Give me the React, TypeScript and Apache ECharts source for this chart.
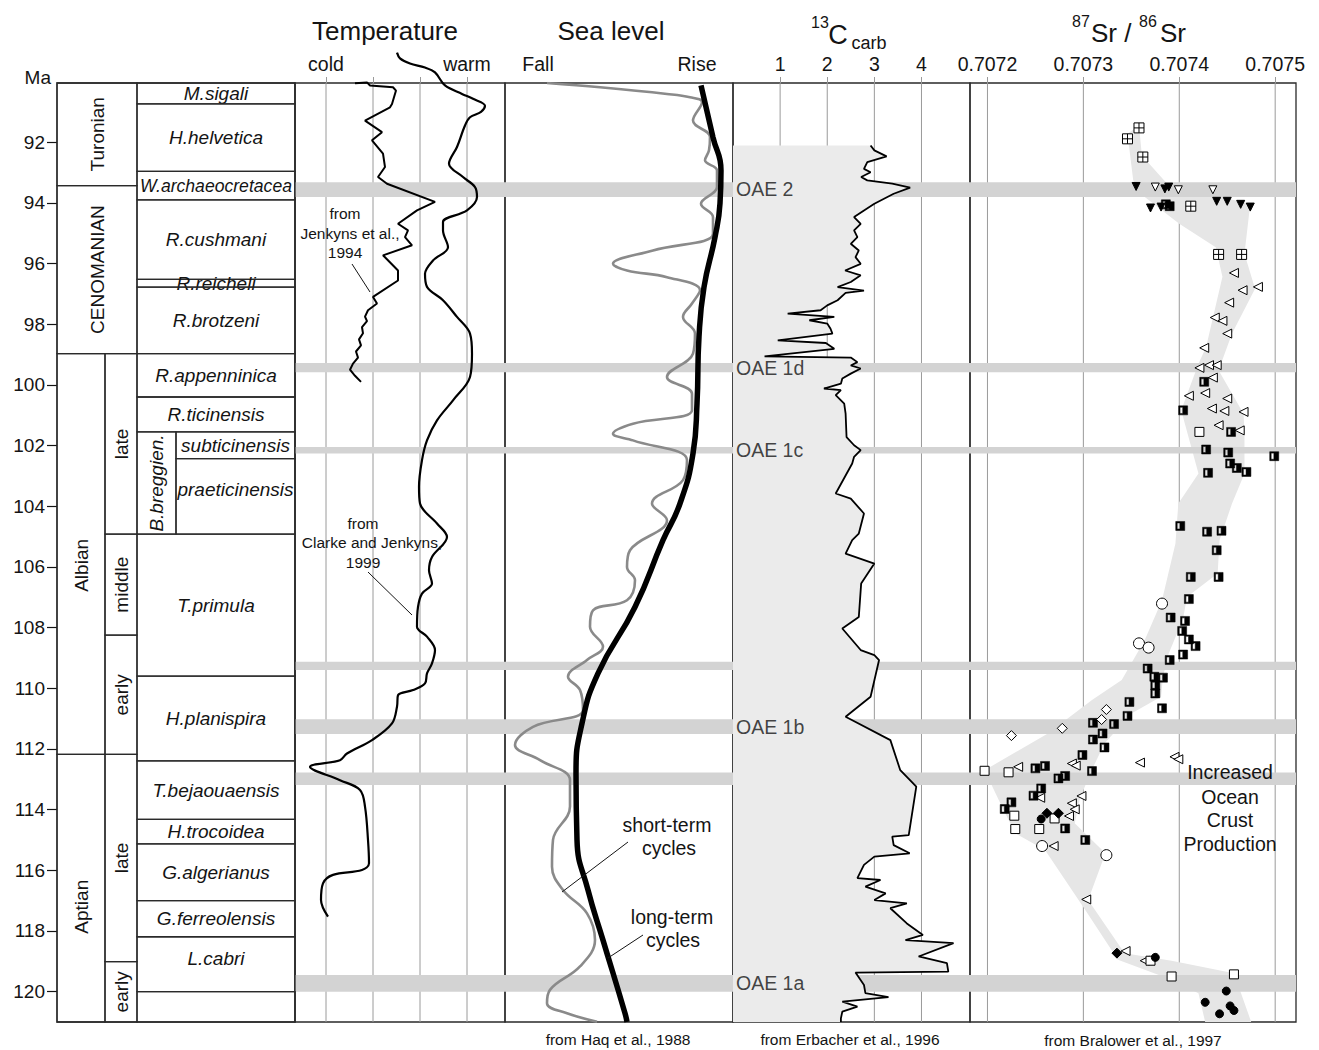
import React, { useEffect, useRef } from "react";
import * as echarts from "echarts";

const FONT = '"Liberation Sans", Arial, Helvetica, sans-serif';

// ---------- Age axis ----------
const MA_MIN = 90.05;
const MA_MAX = 121;
const MA_TICKS = [92, 94, 96, 98, 100, 102, 104, 106, 108, 110, 112, 114, 116, 118, 120];

// ---------- Stratigraphy (Ma boundaries) ----------
const STRAT_COLUMNS: Record<string, [number, number]> = {
  stage: [0, 80],
  stageNarrow: [0, 48],
  substage: [48, 80],
  zone: [80, 238],
  zoneGroup: [80, 119],
  subzone: [119, 238],
};
const STAGES: [string, number, number, string][] = [
  ["Turonian", 90.05, 93.43, "stage"],
  ["CENOMANIAN", 93.43, 98.97, "stage"],
  ["Albian", 98.97, 112.18, "stageNarrow"],
  ["Aptian", 112.18, 121, "stageNarrow"],
];
const SUBSTAGES: [string, number, number][] = [
  ["late", 98.97, 104.92],
  ["middle", 104.92, 108.25],
  ["early", 108.25, 112.18],
  ["late", 112.18, 119.01],
  ["early", 119.01, 121],
];
const ZONES: [string, number, number, string][] = [
  ["M.sigali", 90.05, 90.74, "zone"],
  ["H.helvetica", 90.74, 92.96, "zone"],
  ["W.archaeocretacea", 92.96, 93.9, "zone"],
  ["R.cushmani", 93.9, 96.52, "zone"],
  ["R.reicheli", 96.52, 96.78, "zone"],
  ["R.brotzeni", 96.78, 98.97, "zone"],
  ["R.appenninica", 98.97, 100.4, "zone"],
  ["R.ticinensis", 100.4, 101.55, "zone"],
  ["B.breggien.", 101.55, 104.92, "zoneGroup"],
  ["subticinensis", 101.55, 102.43, "subzone"],
  ["praeticinensis", 102.43, 104.92, "subzone"],
  ["T.primula", 104.92, 109.6, "zone"],
  ["H.planispira", 109.6, 112.39, "zone"],
  ["T.bejaouaensis", 112.39, 114.32, "zone"],
  ["H.trocoidea", 114.32, 115.13, "zone"],
  ["G.algerianus", 115.13, 117.0, "zone"],
  ["G.ferreolensis", 117.0, 118.19, "zone"],
  ["L.cabri", 118.19, 120.0, "zone"],
  ["", 120.0, 121, "zone"],
];
// label placement overrides (label@top)
const LABEL_MA: Record<string, number> = {
  "Albian@98.97": 105.95,
  "Aptian@112.18": 117.2,
  "praeticinensis@102.43": 103.45,
  "L.cabri@118.19": 118.9,
};
const LABEL_SIZE: Record<string, number> = { "W.archaeocretacea": 17.6 };

// ---------- Event bands (OAE etc.) ----------
const BANDS: [number, number][] = [
  [93.32, 93.81], [99.28, 99.58], [102.05, 102.26], [109.13, 109.4],
  [111.02, 111.51], [112.78, 113.19], [119.45, 120.0],
];
const OAE_LABELS: [string, number][] = [
  ["OAE 2", 93.56], ["OAE 1d", 99.43], ["OAE 1c", 102.15], ["OAE 1b", 111.27], ["OAE 1a", 119.72],
];

// ---------- Temperature (relative index, [temp, Ma]) ----------
const TEMP_GRIDLINES = [31, 78, 125, 172];
const TEMP_AXIS_LABELS: [number, string][] = [[31, "cold"], [172, "warm"]];
const TEMP_JENKYNS: [number, number][] = [
  [60, 90.06], [72, 90.03], [75, 90.13], [98, 90.19], [101, 90.3], [97, 90.74], [95, 90.85],
  [70, 91.29], [87, 91.67], [77, 91.94], [88, 92.38], [90, 92.82], [83, 93.15], [92, 93.37],
  [140, 93.97], [122, 94.25], [103, 94.69], [113, 94.91], [110, 95.13], [117, 95.4], [88, 95.73],
  [103, 96.23], [103, 96.56], [78, 97.1], [82, 97.32], [73, 97.54], [70, 97.75], [72, 97.9],
  [67, 98.1], [68, 98.3], [64, 98.5], [66, 98.7], [61, 98.9], [63, 99.1], [58, 99.3], [55, 99.5],
  [60, 99.7], [66, 99.9],
];
const TEMP_CLARKE: [number, number][] = [
  [102, 89.05], [105, 89.24], [115, 89.41], [130, 89.54], [140, 89.7], [150, 90.13], [167, 90.41],
  [178, 90.57], [190, 90.8], [186, 91.0], [175, 91.18], [170, 91.45], [162, 92.16], [154, 92.71],
  [168, 93.15], [180, 93.48], [182, 93.81], [172, 94.25], [148, 94.63], [148, 94.91], [153, 95.46],
  [138, 95.9], [130, 96.34], [132, 96.77], [148, 97.21], [162, 97.76], [175, 98.31], [177, 98.97],
  [175, 99.74], [158, 100.51], [142, 101.17], [132, 101.83], [127, 102.48], [124, 103.36],
  [125, 103.91], [142, 104.57], [152, 105.01], [137, 105.67], [134, 106.11], [137, 106.55],
  [127, 106.88], [123, 107.32], [122, 107.97], [132, 108.3], [140, 108.74], [137, 109.18],
  [132, 109.51], [130, 109.84], [118, 110.06], [103, 110.23], [102, 110.61], [97, 111.16],
  [77, 111.71], [52, 112.15], [45, 112.37], [15, 112.59], [45, 113.03], [65, 113.35], [70, 113.9],
  [73, 115.0], [74, 115.77], [67, 115.99], [38, 116.15], [28, 116.43], [26, 116.98], [33, 117.53],
];

// ---------- Sea level (relative, fall -> rise, [level, Ma]) ----------
const SEA_AXIS_LABELS: [number, string][] = [[33, "Fall"], [192, "Rise"]];
const SEA_SHORT: [number, number][] = [
  [42, 90.05], [95, 90.19], [162, 90.41], [185, 90.52], [197, 90.68], [188, 91.29], [205, 91.83],
  [204, 92.27], [200, 92.6], [212, 92.93], [212, 93.48], [196, 94.03], [208, 94.47], [208, 95.02],
  [148, 95.57], [108, 96.01], [122, 96.23], [162, 96.45], [195, 96.88], [187, 97.32], [178, 97.76],
  [190, 98.31], [188, 98.97], [162, 99.74], [187, 100.29], [187, 100.84], [128, 101.28],
  [108, 101.61], [128, 101.83], [182, 102.48], [178, 103.14], [147, 103.91], [162, 104.46],
  [125, 105.45], [122, 106.0], [130, 106.44], [122, 107.1], [88, 107.43], [85, 107.97],
  [98, 108.63], [82, 109.07], [63, 109.62], [75, 110.06], [78, 110.72], [28, 111.27], [10, 111.87],
  [35, 112.37], [65, 113.03], [65, 113.9], [48, 115.0], [47, 115.88], [58, 116.65], [82, 117.42],
  [90, 118.3], [75, 119.17], [45, 119.94], [42, 120.38], [62, 120.71], [92, 120.99],
];
const SEA_LONG: [number, number][] = [
  [196, 90.13], [208, 91.84], [216, 92.93], [215, 94.02], [210, 95.13], [199, 96.78], [194, 98.42],
  [192, 100.62], [188, 102.26], [175, 103.91], [158, 105.12], [130, 107.32], [93, 109.51],
  [77, 111.16], [71, 112.81], [72, 115.0], [83, 116.65], [98, 118.3], [120, 120.71], [122, 121.0],
];

// ---------- d13C carb ([permil, Ma]) ----------
const C13_TICKS = [1, 2, 3, 4];
const C13: [number, number][] = [
  [2.92, 92.11], [3.0, 92.27], [3.26, 92.47], [2.85, 92.66], [2.78, 92.88], [2.92, 92.99],
  [2.72, 93.15], [2.85, 93.26], [3.38, 93.37], [3.76, 93.5], [3.41, 93.7], [3.0, 94.03],
  [2.78, 94.25], [2.57, 94.47], [2.71, 94.69], [2.57, 94.91], [2.64, 95.13], [2.5, 95.35],
  [2.67, 95.57], [2.6, 95.79], [2.71, 96.01], [2.38, 96.23], [2.71, 96.39], [2.5, 96.61],
  [2.22, 96.78], [2.78, 96.89], [2.39, 96.97], [2.22, 97.21], [2.0, 97.38], [1.86, 97.54],
  [1.16, 97.65], [2.15, 97.76], [1.62, 97.87], [2.0, 97.98], [2.07, 98.15], [2.11, 98.31],
  [0.95, 98.53], [1.97, 98.62], [2.15, 98.81], [0.67, 99.06], [2.5, 99.1], [2.64, 99.25],
  [2.5, 99.36], [2.71, 99.46], [2.5, 99.63], [2.32, 99.79], [2.29, 99.96], [1.93, 100.12],
  [2.29, 100.17], [2.18, 100.34], [2.36, 100.62], [2.39, 100.95], [2.41, 101.72], [2.57, 101.99],
  [2.71, 102.15], [2.57, 102.37], [2.53, 102.59], [2.18, 103.58], [2.5, 103.75], [2.78, 104.24],
  [2.67, 104.9], [2.53, 105.12], [2.39, 105.56], [3.0, 105.89], [2.72, 106.55], [2.67, 107.65],
  [2.32, 108.03], [2.71, 108.74], [3.0, 108.91], [3.1, 109.07], [2.92, 110.28], [2.39, 110.94],
  [3.34, 111.71], [3.55, 112.7], [3.89, 113.24], [3.73, 114.84], [3.38, 114.89], [3.41, 115.17],
  [3.75, 115.44], [3.0, 115.55], [2.78, 115.82], [2.64, 116.26], [3.13, 116.32], [2.81, 116.54],
  [3.24, 116.76], [3.0, 116.98], [3.69, 117.09], [3.34, 117.25], [3.69, 117.75], [4.03, 118.13],
  [3.66, 118.3], [4.68, 118.4], [3.94, 118.84], [4.54, 119.06], [4.57, 119.34], [2.6, 119.37],
  [2.78, 119.78], [2.81, 120.05], [3.3, 120.18], [2.32, 120.33], [2.64, 120.49], [2.32, 120.66],
  [2.29, 120.88], [2.29, 121.0],
];

// ---------- 87Sr/86Sr ([ratio, Ma]) ----------
const SR_TICKS = [0.7072, 0.7073, 0.7074, 0.7075];
const SR_ENVELOPE: [number, number][] = [
  [0.707358, 91.45], [0.707361, 92.44], [0.707389, 93.43], [0.707474, 94.03], [0.707468, 95.68],
  [0.707479, 96.83], [0.707455, 98.31], [0.707441, 99.52], [0.707467, 100.95], [0.707468, 101.55],
  [0.707468, 102.92], [0.707455, 103.91], [0.707442, 105.12], [0.70744, 106.22], [0.707408, 106.99],
  [0.707404, 107.7], [0.707389, 108.85], [0.707383, 109.62], [0.707381, 110.28], [0.70735, 110.83],
  [0.707322, 111.82], [0.707307, 112.81], [0.707296, 113.68], [0.707291, 114.45], [0.707323, 115.44],
  [0.707305, 116.98], [0.707343, 118.73], [0.707392, 118.98], [0.707457, 119.39], [0.707475, 121.0],
  [0.707427, 121.0], [0.70742, 120.05], [0.707392, 119.61], [0.707336, 118.95], [0.707302, 117.31],
  [0.70726, 115.33], [0.707229, 114.78], [0.707215, 113.9], [0.707197, 112.7], [0.707263, 111.49],
  [0.707309, 110.39], [0.70734, 109.73], [0.707364, 108.41], [0.707382, 107.1], [0.707396, 105.23],
  [0.707399, 103.91], [0.70742, 102.92], [0.707402, 100.84], [0.70742, 99.3], [0.707428, 98.75],
  [0.707445, 96.44], [0.707438, 95.46], [0.7074, 94.69], [0.707364, 93.81], [0.707352, 93.26],
  [0.707346, 91.72],
];
const SR_SQ_CROSS: [number, number][] = [
  [0.707358, 91.53], [0.707346, 91.89], [0.707362, 92.49], [0.707412, 94.11], [0.707441, 95.7], [0.707465, 95.7],
];
const SR_TRI_DOWN_FILLED: [number, number][] = [
  [0.707355, 93.46], [0.707385, 93.54], [0.707389, 93.48], [0.70737, 94.17], [0.707381, 94.14],
  [0.707439, 93.95], [0.70745, 93.95], [0.707464, 94.05], [0.707474, 94.14],
];
const SR_TRI_DOWN_OPEN: [number, number][] = [[0.707375, 93.48], [0.707399, 93.57], [0.707435, 93.57]];
const SR_TRI_LEFT_OPEN: [number, number][] = [
  [0.707457, 96.31], [0.707482, 96.77], [0.707466, 96.88], [0.707452, 97.29], [0.707437, 97.78],
  [0.707445, 97.89], [0.70745, 98.31], [0.707426, 98.78], [0.707421, 99.44], [0.707431, 99.35],
  [0.707439, 99.35], [0.707435, 99.76], [0.70741, 100.36], [0.707427, 100.27], [0.70745, 100.45],
  [0.707434, 100.78], [0.707447, 100.86], [0.707467, 100.89], [0.707441, 101.33], [0.707463, 101.5],
  [0.707232, 112.59], [0.707288, 112.48], [0.707292, 112.55], [0.707359, 112.45], [0.707395, 112.26],
  [0.707399, 112.34], [0.707255, 113.61], [0.707298, 113.55], [0.707288, 113.79], [0.707291, 113.99],
  [0.707285, 114.21], [0.707269, 115.2], [0.707303, 116.96], [0.707344, 118.66], [0.707364, 118.98],
];
const SR_HALF_SQ: [number, number][] = [
  [0.707386, 94.05], [0.70739, 94.11], [0.707426, 99.9], [0.707404, 100.84], [0.707454, 101.55],
  [0.707428, 102.13], [0.707451, 102.23], [0.707499, 102.35], [0.707453, 102.59], [0.70746, 102.74],
  [0.70747, 102.87], [0.70743, 102.9], [0.707401, 104.65], [0.707429, 104.84], [0.707444, 104.81],
  [0.707439, 105.45], [0.707412, 106.33], [0.707441, 106.33], [0.70741, 107.06], [0.707391, 107.67],
  [0.707406, 107.78], [0.707403, 108.11], [0.70741, 108.39], [0.707417, 108.61], [0.707404, 108.89],
  [0.70739, 109.07], [0.707367, 109.35], [0.707374, 109.62], [0.707383, 109.65], [0.707375, 109.9],
  [0.707375, 110.17], [0.707348, 110.45], [0.707382, 110.66], [0.707346, 110.91], [0.70731, 111.14],
  [0.707332, 111.18], [0.70732, 111.49], [0.70731, 111.69], [0.707322, 111.95], [0.707299, 112.2],
  [0.70726, 112.56], [0.70725, 112.64], [0.707309, 112.73], [0.707281, 112.89], [0.707274, 112.97],
  [0.707256, 113.3], [0.707248, 113.54], [0.707225, 113.76], [0.707218, 113.98], [0.707281, 114.62],
  [0.707302, 115.0],
];
const SR_OPEN_SQ: [number, number][] = [
  [0.707421, 101.55], [0.707197, 112.72], [0.707222, 112.77], [0.707228, 114.2], [0.70727, 114.29],
  [0.707229, 114.64], [0.707254, 114.64], [0.70737, 118.98], [0.707392, 119.5], [0.707457, 119.43],
];
const SR_OPEN_CIRCLE: [number, number][] = [
  [0.707382, 107.21], [0.707358, 108.52], [0.707368, 108.66], [0.707257, 115.2], [0.707324, 115.5],
];
const SR_OPEN_DIAMOND: [number, number][] = [
  [0.707324, 110.7], [0.707319, 111.03], [0.707278, 111.32], [0.707225, 111.56],
];
const SR_FILLED_DIAMOND: [number, number][] = [[0.707262, 114.12], [0.707274, 114.12], [0.707335, 118.73]];
const SR_FILLED_CIRCLE: [number, number][] = [
  [0.707256, 114.31], [0.707375, 118.87], [0.707449, 119.98], [0.707427, 120.35], [0.707453, 120.47],
  [0.707457, 120.62], [0.707442, 120.73],
];

// ---------- layout ----------
const GRID_TOP = 83;
const GRID_HEIGHT = 939;
const GRIDS = [
  { left: 57, width: 238 },
  { left: 295, width: 210 },
  { left: 505, width: 228 },
  { left: 733, width: 237 },
  { left: 970, width: 326 },
];
const X_RANGES: [number, number][] = [
  [0, 238],
  [0, 210],
  [0, 228],
  [0, 5.03],
  [0.7071818, 0.7075217],
];
const BAND_COLOR = "#d3d3d3";
const GRIDLINE_COLOR = "#9a9a9a";
const FILL_COLOR = "#ebebeb";
const ENVELOPE_COLOR = "#e6e6e6";
const INK = "#141414";

function txt(text: string, x: number, y: number, size: number, opts: any = {}) {
  const align = opts.align || "center";
  const va = opts.va || "middle";
  return {
    type: "text",
    x,
    y,
    z: 20,
    silent: true,
    style: {
      text,
      font: `${opts.italic ? "italic " : ""}${size}px ${FONT}`,
      fill: INK,
      align,
      verticalAlign: va,
      textAlign: align,
      textVerticalAlign: va,
    },
  };
}
function seg(x1: number, y1: number, x2: number, y2: number) {
  return { type: "line", z: 20, silent: true, shape: { x1, y1, x2, y2 }, style: { stroke: INK, lineWidth: 1 } };
}

// value of the d13C curve at a given age (linear between samples)
function c13At(ma: number): number {
  for (let k = 0; k < C13.length - 1; k++) {
    const a = C13[k];
    const b = C13[k + 1];
    if ((ma >= a[1] && ma <= b[1]) || (ma <= a[1] && ma >= b[1])) {
      if (b[1] === a[1]) return Math.max(a[0], b[0]);
      const t = (ma - a[1]) / (b[1] - a[1]);
      return a[0] + t * (b[0] - a[0]);
    }
  }
  return C13[C13.length - 1][0];
}

/**
 * One background custom series per panel: layers are drawn in the given
 * order inside a single group (grid lines, bands, fills, envelopes).
 */
function panelBackground(i: number, layers: string[], opts: any = {}) {
  return {
    type: "custom",
    xAxisIndex: i,
    yAxisIndex: i,
    silent: true,
    z: 1,
    data: [[X_RANGES[i][0], MA_MIN]],
    renderItem: (params: any, api: any) => {
      const cs = params.coordSys;
      const children: any[] = [];
      let z2 = 1;
      layers.forEach((layer) => {
        if (layer === "grid") {
          (opts.gridlines || []).forEach((v: number) => {
            const x = api.coord([v, MA_MIN])[0];
            children.push({
              type: "line",
              z2: z2,
              shape: { x1: x, y1: cs.y, x2: x, y2: cs.y + cs.height },
              style: { stroke: GRIDLINE_COLOR, lineWidth: 1, opacity: 1 },
            });
          });
        } else if (layer === "bands") {
          BANDS.forEach((b) => {
            const y0 = api.coord([X_RANGES[i][0], b[0]])[1];
            const y1 = api.coord([X_RANGES[i][0], b[1]])[1];
            children.push({
              type: "rect",
              z2: z2,
              shape: { x: cs.x, y: y0, width: cs.width, height: y1 - y0 },
              style: { fill: BAND_COLOR, opacity: 1 },
            });
          });
        } else if (layer === "bandsRightOfCurve") {
          // bands only between the d13C curve and the right edge
          const xr = X_RANGES[i][1];
          BANDS.forEach((b) => {
            const left: number[][] = [[c13At(b[0]), b[0]]];
            C13.forEach((p) => {
              if (p[1] > b[0] && p[1] < b[1]) left.push([p[0], p[1]]);
            });
            left.push([c13At(b[1]), b[1]]);
            const pts = [[xr, b[0]], ...left, [xr, b[1]]].map((p) => api.coord(p));
            children.push({
              type: "polygon",
              z2: z2,
              shape: { points: pts },
              style: { fill: BAND_COLOR, opacity: 1 },
            });
          });
        } else if (layer === "fill") {
          const pts = [[X_RANGES[i][0], C13[0][1]], ...C13, [X_RANGES[i][0], C13[C13.length - 1][1]]].map((p) =>
            api.coord(p)
          );
          children.push({
            type: "polygon",
            z2: z2,
            shape: { points: pts },
            style: { fill: FILL_COLOR, opacity: 1 },
          });
        } else if (layer === "envelope") {
          const pts = SR_ENVELOPE.map((p) => api.coord(p));
          children.push({
            type: "polygon",
            z2: z2,
            shape: { points: pts },
            style: { fill: ENVELOPE_COLOR, opacity: 1 },
          });
        }
        z2 += 1;
      });
      return { type: "group", children };
    },
  };
}

function buildOption() {
  const cells: any[] = [];
  STAGES.forEach((s) => cells.push({ text: s[0], m0: s[1], m1: s[2], col: s[3], kind: "v" }));
  SUBSTAGES.forEach((s) => cells.push({ text: s[0], m0: s[1], m1: s[2], col: "substage", kind: "v" }));
  ZONES.forEach((z) =>
    cells.push({ text: z[0], m0: z[1], m1: z[2], col: z[3], kind: z[3] === "zoneGroup" ? "vi" : "h" })
  );

  const mkY = (i: number) => ({
    type: "value",
    gridIndex: i,
    inverse: true,
    min: MA_MIN,
    max: MA_MAX,
    show: i === 0,
    position: "left",
    axisLine: { show: false },
    splitLine: { show: false },
    axisTick: {
      show: i === 0,
      customValues: MA_TICKS,
      length: 10,
      lineStyle: { color: INK, width: 1.2 },
    },
    axisLabel: {
      show: i === 0,
      customValues: MA_TICKS,
      margin: 12,
      fontSize: 19,
      fontFamily: FONT,
      color: INK,
    },
  });

  const topAxisBase = (i: number) => ({
    type: "value",
    gridIndex: i,
    position: "top",
    min: X_RANGES[i][0],
    max: X_RANGES[i][1],
    axisLine: { show: false },
    splitLine: { show: false },
  });
  const labelStyle = { fontSize: 19.5, fontFamily: FONT, color: INK, margin: 9 };

  const xAxes: any[] = [
    { type: "value", gridIndex: 0, min: X_RANGES[0][0], max: X_RANGES[0][1], show: false, splitLine: { show: false } },
    {
      ...topAxisBase(1),
      axisTick: { show: true, customValues: TEMP_GRIDLINES, length: 6, lineStyle: { color: GRIDLINE_COLOR } },
      axisLabel: {
        ...labelStyle,
        customValues: TEMP_AXIS_LABELS.map((l) => l[0]),
        formatter: (v: number) => {
          const f = TEMP_AXIS_LABELS.find((l) => Math.abs(l[0] - v) < 1e-6);
          return f ? f[1] : "";
        },
      },
    },
    {
      ...topAxisBase(2),
      axisTick: { show: false },
      axisLabel: {
        ...labelStyle,
        customValues: SEA_AXIS_LABELS.map((l) => l[0]),
        formatter: (v: number) => {
          const f = SEA_AXIS_LABELS.find((l) => Math.abs(l[0] - v) < 1e-6);
          return f ? f[1] : "";
        },
      },
    },
    {
      ...topAxisBase(3),
      axisTick: { show: true, customValues: C13_TICKS, length: 6, lineStyle: { color: GRIDLINE_COLOR } },
      axisLabel: { ...labelStyle, customValues: C13_TICKS, formatter: (v: number) => String(Math.round(v)) },
    },
    {
      ...topAxisBase(4),
      axisTick: { show: true, customValues: SR_TICKS, length: 6, lineStyle: { color: GRIDLINE_COLOR } },
      axisLabel: { ...labelStyle, customValues: SR_TICKS, formatter: (v: number) => v.toFixed(4) },
    },
  ];

  const srScatter = (data: any, symbol: string, size: number, fill: string, rotate = 0, extra: any = {}) => ({
    type: "scatter",
    xAxisIndex: 4,
    yAxisIndex: 4,
    data,
    symbol,
    symbolSize: size,
    symbolRotate: rotate,
    silent: true,
    z: 6,
    itemStyle: { color: fill, borderColor: "#000", borderWidth: 1, opacity: 1 },
    ...extra,
  });

  const series: any[] = [
    // stratigraphy
    {
      type: "custom",
      xAxisIndex: 0,
      yAxisIndex: 0,
      silent: true,
      z: 3,
      data: cells.map((c) => [STRAT_COLUMNS[c.col][0], c.m0]),
      renderItem: (params: any, api: any) => {
        const c = cells[params.dataIndex];
        const [x0, x1] = STRAT_COLUMNS[c.col];
        const p0 = api.coord([x0, c.m0]);
        const p1 = api.coord([x1, c.m1]);
        const children: any[] = [
          {
            type: "rect",
            shape: { x: p0[0], y: p0[1], width: p1[0] - p0[0], height: p1[1] - p0[1] },
            style: { fill: "none", stroke: "#2a2a2a", lineWidth: 1.3 },
          },
        ];
        if (c.text) {
          const key = `${c.text}@${c.m0}`;
          const lm = LABEL_MA[key] !== undefined ? LABEL_MA[key] : (c.m0 + c.m1) / 2;
          const pc = api.coord([(x0 + x1) / 2, lm]);
          const italic = c.kind !== "v";
          const size = LABEL_SIZE[c.text] || 19;
          children.push({
            type: "text",
            x: pc[0],
            y: pc[1],
            rotation: c.kind === "h" ? 0 : Math.PI / 2,
            style: {
              text: c.text,
              font: `${italic ? "italic " : ""}${size}px ${FONT}`,
              fill: INK,
              align: "center",
              verticalAlign: "middle",
              textAlign: "center",
              textVerticalAlign: "middle",
            },
          });
        }
        return { type: "group", children };
      },
    },
    // temperature
    panelBackground(1, ["grid", "bands"], { gridlines: TEMP_GRIDLINES }),
    {
      type: "line",
      name: "Clarke and Jenkyns 1999",
      xAxisIndex: 1,
      yAxisIndex: 1,
      data: TEMP_CLARKE,
      smooth: 0.35,
      showSymbol: false,
      symbol: "none",
      clip: false,
      silent: true,
      z: 5,
      lineStyle: { color: "#000", width: 2.2 },
    },
    {
      type: "line",
      name: "Jenkyns et al. 1994",
      xAxisIndex: 1,
      yAxisIndex: 1,
      data: TEMP_JENKYNS,
      showSymbol: false,
      symbol: "none",
      clip: false,
      silent: true,
      z: 5,
      lineStyle: { color: "#000", width: 2 },
    },
    // sea level
    panelBackground(2, ["bands"]),
    {
      type: "line",
      name: "short-term",
      xAxisIndex: 2,
      yAxisIndex: 2,
      data: SEA_SHORT,
      smooth: 0.4,
      showSymbol: false,
      symbol: "none",
      silent: true,
      z: 4,
      lineStyle: { color: "#8a8a8a", width: 2.6 },
    },
    {
      type: "line",
      name: "long-term",
      xAxisIndex: 2,
      yAxisIndex: 2,
      data: SEA_LONG,
      smooth: 0.5,
      showSymbol: false,
      symbol: "none",
      silent: true,
      z: 5,
      lineStyle: { color: "#000", width: 5.5 },
    },
    // d13C: grid, fill, then bands only to the right of the curve
    panelBackground(3, ["grid", "fill", "bandsRightOfCurve"], { gridlines: C13_TICKS }),
    {
      type: "line",
      name: "d13C",
      xAxisIndex: 3,
      yAxisIndex: 3,
      data: C13,
      showSymbol: false,
      symbol: "none",
      silent: true,
      z: 5,
      lineStyle: { color: "#000", width: 1.8 },
    },
    {
      type: "scatter",
      xAxisIndex: 3,
      yAxisIndex: 3,
      silent: true,
      z: 8,
      symbolSize: 0,
      data: OAE_LABELS.map((o) => ({ name: o[0], value: [0, o[1]] })),
      label: {
        show: true,
        position: "right",
        distance: 3,
        formatter: "{b}",
        fontSize: 19.5,
        fontFamily: FONT,
        color: INK,
      },
    },
    // Sr: grid < envelope < bands < points
    panelBackground(4, ["grid", "envelope", "bands"], { gridlines: SR_TICKS }),
    srScatter(SR_SQ_CROSS, "path://M0,0L10,0L10,10L0,10Z M5,0L5,10 M0,5L10,5", 10, "#fff"),
    srScatter(SR_TRI_DOWN_FILLED, "triangle", 8, "#000", 180),
    srScatter(SR_TRI_DOWN_OPEN, "triangle", 8, "#fff", 180),
    srScatter(SR_TRI_LEFT_OPEN, "triangle", 9, "#fff", 90),
    srScatter(SR_HALF_SQ, "path://M0,0L10,0L10,10L0,10Z M1.6,1.6L1.6,8.4L4.6,8.4L4.6,1.6Z", 9, "#000", 0, {
      itemStyle: { color: "#000", borderColor: "#000", borderWidth: 0.5, opacity: 1 },
    }),
    srScatter(SR_OPEN_SQ, "rect", 9, "#fff"),
    srScatter(SR_OPEN_CIRCLE, "circle", 11, "#fff"),
    srScatter(SR_OPEN_DIAMOND, "diamond", 10, "#fff"),
    srScatter(SR_FILLED_DIAMOND, "diamond", 10, "#000"),
    srScatter(SR_FILLED_CIRCLE, "circle", 8, "#000"),
  ];

  const graphic: any[] = [
    txt("Ma", 51, 77, 19, { align: "right" }),
    txt("Temperature", 385, 31, 26),
    txt("Sea level", 611, 31, 26),
    txt("13", 820, 22, 16),
    txt("C", 838, 35, 27),
    txt("carb", 869, 43, 18),
    txt("87", 1081, 21, 16),
    txt("Sr /", 1091, 33, 26, { align: "left" }),
    txt("86", 1148, 21, 16),
    txt("Sr", 1160, 33, 26, { align: "left" }),
    // temperature sources
    txt("from", 345, 213, 15.5),
    txt("Jenkyns et al.,", 350, 233, 15.5),
    txt("1994", 345, 252, 15.5),
    seg(352, 264, 370, 292),
    txt("from", 363, 523, 15.5),
    txt("Clarke and Jenkyns,", 372, 542, 15.5),
    txt("1999", 363, 562, 15.5),
    seg(368, 572, 412, 615),
    // sea level notes
    txt("short-term", 667, 825, 19.5),
    txt("cycles", 669, 848, 19.5),
    seg(628, 842, 562, 892),
    txt("long-term", 672, 917, 19.5),
    txt("cycles", 673, 940, 19.5),
    seg(643, 935, 608, 958),
    // sources
    txt("from Haq et al., 1988", 618, 1039, 15.5),
    txt("from Erbacher et al., 1996", 850, 1039, 15.5),
    txt("from Bralower et al., 1997", 1133, 1040, 15.5),
    // Sr note
    txt("Increased", 1230, 772, 19.5),
    txt("Ocean", 1230, 797, 19.5),
    txt("Crust", 1230, 820, 19.5),
    txt("Production", 1230, 844, 19.5),
  ];

  return {
    animation: false,
    backgroundColor: "#ffffff",
    textStyle: { fontFamily: FONT },
    grid: GRIDS.map((g) => ({
      left: g.left,
      top: GRID_TOP,
      width: g.width,
      height: GRID_HEIGHT,
      show: true,
      borderColor: "#2a2a2a",
      borderWidth: 1.3,
      backgroundColor: "transparent",
      containLabel: false,
      outerBoundsMode: "none",
    })),
    xAxis: xAxes,
    yAxis: [0, 1, 2, 3, 4].map(mkY),
    series,
    graphic: { elements: graphic },
  };
}

export default function App() {
  const ref = useRef<HTMLDivElement>(null);
  useEffect(() => {
    document.body.style.margin = "0";
    if (!ref.current) return;
    const chart = echarts.init(ref.current, null, { renderer: "svg" });
    chart.setOption(buildOption() as any);
    return () => chart.dispose();
  }, []);
  return <div ref={ref} style={{ width: 1319, height: 1050, background: "#fff" }} />;
}
